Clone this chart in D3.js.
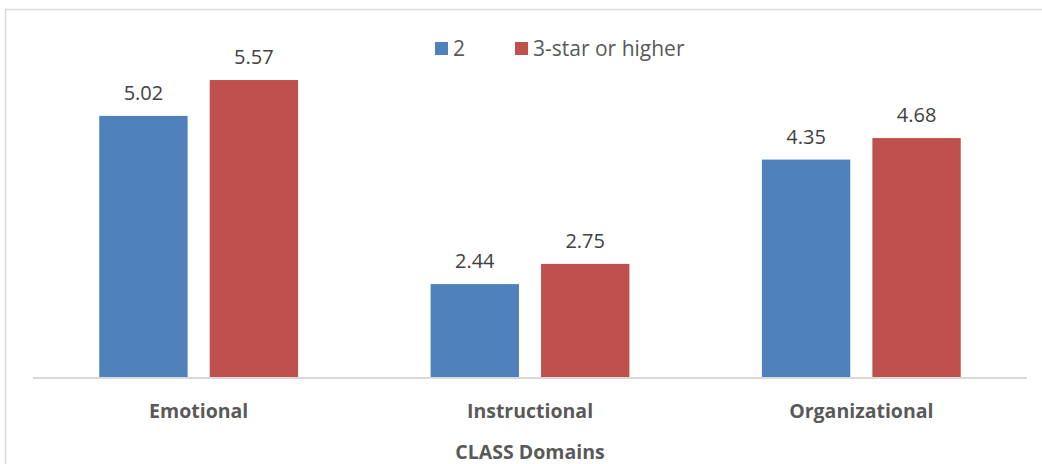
<!DOCTYPE html>
<html>
<head>
<meta charset="utf-8">
<script src="https://cdn.jsdelivr.net/npm/d3@7"></script>
<style>
  body { margin: 0; background: #fff; }
  svg { display: block; font-family: 'Open Sans', 'Noto Sans', sans-serif; }
</style>
</head>
<body>
<svg width="1042" height="464"></svg>
<script>
// data
const categories = ['Emotional', 'Instructional', 'Organizational'];
const seriesNames = ['2', '3-star or higher'];
const seriesValues = [
  [5.02, 2.44, 4.35],
  [5.57, 2.75, 4.68]
];
const colors = ['#4F81BD', '#C0504D'];
const axisTitle = 'CLASS Domains';

const svg = d3.select('svg');
const width = 1042;
const height = 464;

// chart border (only top and left visible in the crop)
svg.append('rect')
  .attr('x', 5.5)
  .attr('y', 9.5)
  .attr('width', width + 20)
  .attr('height', height + 20)
  .attr('fill', '#fff')
  .attr('stroke', '#D9D9D9')
  .attr('stroke-width', 1.5);

const plot = { left: 33, right: 1027, top: 52, bottom: 378 };

const x0 = d3.scaleBand()
  .domain(categories)
  .range([plot.left, plot.right])
  .paddingInner(0.4)
  .paddingOuter(0.2);

const x1 = d3.scaleBand()
  .domain(seriesNames)
  .range([0, x0.bandwidth()])
  .paddingInner(0.2)
  .paddingOuter(0);

// axis starts at 1 (CLASS scale)
const y = d3.scaleLinear().domain([1, 6]).range([plot.bottom, plot.top]);

const rows = categories.map((c, i) => ({
  cat: c,
  vals: seriesNames.map((s, j) => ({ s: s, j: j, v: seriesValues[j][i] }))
}));

const groups = svg.append('g').selectAll('g')
  .data(rows)
  .join('g')
    .attr('transform', (d) => 'translate(' + x0(d.cat) + ',0)');

groups.selectAll('rect')
  .data((d) => d.vals)
  .join('rect')
    .attr('x', (d) => x1(d.s))
    .attr('y', (d) => y(d.v))
    .attr('width', x1.bandwidth())
    .attr('height', (d) => y(1) - y(d.v))
    .attr('fill', (d) => colors[d.j]);

groups.selectAll('text')
  .data((d) => d.vals)
  .join('text')
    .attr('x', (d) => x1(d.s) + x1.bandwidth() / 2)
    .attr('y', (d) => y(d.v) - 16)
    .attr('text-anchor', 'middle')
    .attr('fill', '#404040')
    .style('font-size', '20px')
    .text((d) => d.v.toFixed(2));

// x axis
const xAxis = svg.append('g')
  .attr('transform', 'translate(0,' + plot.bottom + ')')
  .call(d3.axisBottom(x0).tickSize(0).tickPadding(24));
xAxis.select('.domain')
  .attr('stroke', '#D9D9D9')
  .attr('stroke-width', 2)
  .attr('d', 'M' + plot.left + ',0H' + plot.right);
xAxis.selectAll('text')
  .attr('fill', '#595959')
  .attr('dy', 0)
  .attr('y', 40)
  .style('font-family', "'Open Sans', 'Noto Sans', sans-serif")
  .style('font-size', '19.5px')
  .style('font-weight', 'bold');

svg.append('text')
  .attr('x', (plot.left + plot.right) / 2)
  .attr('y', 459)
  .attr('text-anchor', 'middle')
  .attr('fill', '#595959')
  .style('font-size', '19.5px')
  .style('font-weight', 'bold')
  .text(axisTitle);

// legend
const legendX = [435, 515];
const legend = svg.append('g').selectAll('g')
  .data(seriesNames)
  .join('g')
    .attr('transform', (d, i) => 'translate(' + legendX[i] + ',42)');
legend.append('rect')
  .attr('width', 13)
  .attr('height', 13)
  .attr('fill', (d, i) => colors[i]);
legend.append('text')
  .attr('x', 18)
  .attr('y', 13.5)
  .attr('fill', '#595959')
  .style('font-size', '21px')
  .text((d) => d);
</script>
</body>
</html>
